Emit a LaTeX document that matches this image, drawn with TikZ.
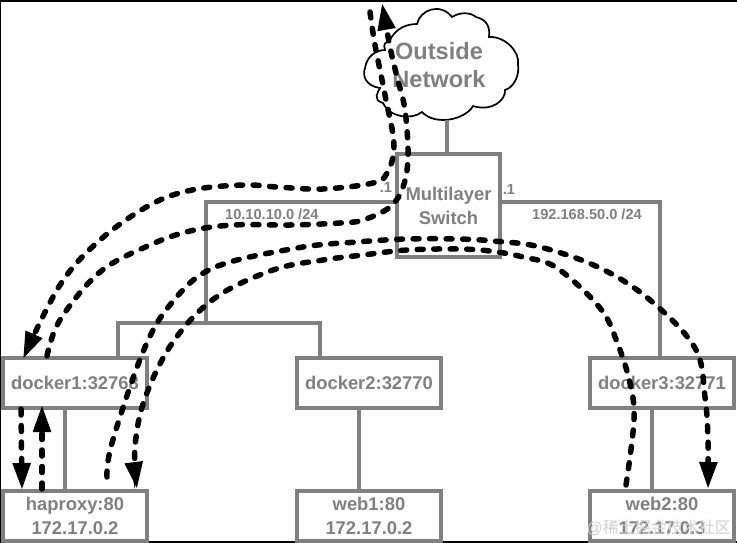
\documentclass[tikz,border=0pt]{standalone}
\usepackage{fontspec}
\setmainfont{Liberation Sans}
\newfontfamily\cjkfont{Noto Sans CJK SC}
\usetikzlibrary{arrows.meta}
\definecolor{boxgray}{HTML}{808080}

\begin{document}
\begin{tikzpicture}[x=1pt,y=-1pt,
  hostbox/.style={draw=boxgray,line width=3.5pt,fill=white,minimum width=144pt,minimum height=50pt,inner sep=0pt,align=center,text=boxgray,font=\fontsize{18.4}{24}\selectfont\bfseries},
  wire/.style={draw=boxgray,line width=3.5pt},
  small/.style={text=boxgray,font=\fontsize{14.6}{17}\selectfont\bfseries,inner sep=0pt},
  flow/.style={line width=5.5pt,line cap=round,dash pattern=on 6pt off 10.5pt},
  flowtip/.style={-{Triangle[length=27pt,width=17pt]}}]
\useasboundingbox (0,0) rectangle (737,543);
\fill[white] (0,0) rectangle (737,543);
\draw[line width=2pt] (0,541.5)--(0,1)--(737,1);\draw[line width=2pt] (0,541.5)--(737,541.5);
% cloud
\draw[line width=1.7pt,fill=white] (383,103) .. controls (372,100) and (378,92) .. (380,88) .. controls (366,86) and (362,76) .. (365,68) .. controls (367,56) and (376,50) .. (385,50) .. controls (383,44) and (385,42) .. (389,42) .. controls (395,28) and (407,24) .. (417,24) .. controls (420,10) and (440,2) .. (452,17) .. controls (460,12) and (470,12) .. (476,17) .. controls (488,20) and (490,28) .. (489,37) .. controls (505,36) and (520,52) .. (518,64) .. controls (520,78) and (512,88) .. (505,90) .. controls (506,100) and (492,112) .. (473,106) .. controls (465,120) and (435,126) .. (422,112) .. controls (412,120) and (390,118) .. (383,103) -- cycle;
\node[text=boxgray,align=center,inner sep=0pt,font=\fontsize{23.6}{28}\selectfont\bfseries] (outside) at (439,65) {Outside\\Network};
\coordinate (cloudbase) at (447,120);
% boxes
\node[hostbox,minimum width=103pt,minimum height=103pt] (switch) at (448.5,205.5) {Multilayer\\Switch};
\node[hostbox] (docker1) at (75,383) {docker1:32768};
\node[hostbox] (docker2) at (369,383) {docker2:32770};
\node[hostbox] (docker3) at (662,383) {docker3:32771};
\node[hostbox] (haproxy) at (75,516) {haproxy:80\\172.17.0.2};
\node[hostbox] (web1) at (369,516) {web1:80\\172.17.0.2};
\node[hostbox] (web2) at (662,516) {web2:80\\172.17.0.3};
% links
\draw[wire] (cloudbase)--(switch.north-|cloudbase);
\draw[wire] (switch.west|-0,202)--(206,202)--(206,323);
\draw[wire] (docker1.north-|118,0)--(118,323)--(320,323)--(docker2.north-|320,0);
\draw[wire] (switch.east|-0,202)--(660,202)--(docker3.north-|660,0);
\draw[wire] (docker1.south-|65,0)--(haproxy.north-|65,0);
\draw[wire] (docker2.south-|359,0)--(web1.north-|359,0);
\draw[wire] (docker3.south-|652,0)--(web2.north-|652,0);
\node[small,anchor=west] at (225,214) {10.10.10.0 /24};
\node[small,anchor=west] at (532,214) {192.168.50.0 /24};
\node[small] at (386,187) {.1};
\node[small] at (509,189) {.1};
% flows
\coordinate (fromout) at (370,12);\coordinate (todocker1) at (23,359);
\coordinate (fromdocker1) at (47,356);\coordinate (toout) at (382,3);
\draw[flow,flowtip] plot[smooth,tension=.6] coordinates {(fromout) (375,45) (385,95) (394,145) (387,173) (373,183) (323,189) (277,187) (243,185) (192,190) (150,205) (100,240) (60,285) (todocker1)};
\draw[flow,flowtip] plot[smooth,tension=.6] coordinates {(fromdocker1) (60,320) (100,272) (150,245) (190,231) (233,225) (290,225) (340,223) (363,220) (390,207) (403,187) (408,157) (405,110) (397,77) (390,47) (toout)};
\coordinate (fromhaproxy) at (107,477);\coordinate (toweb2) at (708,489);
\coordinate (fromweb2) at (626,485);\coordinate (tohaproxy) at (137,489);
\draw[flow,flowtip] plot[smooth,tension=.6] coordinates {(fromhaproxy) (112,443) (143,352) (170,305) (213,268) (297,248) (357,242) (407,239) (457,239) (493,241) (540,247) (600,268) (650,300) (695,348) (705,397) (708,440) (toweb2)};
\draw[flow,flowtip] plot[smooth,tension=.6] coordinates {(fromweb2) (634,420) (630,383) (617,342) (600,308) (557,268) (523,257) (490,251) (457,249) (407,250) (363,255) (323,260) (273,270) (215,298) (173,342) (145,398) (135,447) (tohaproxy)};
\draw[flow,flowtip] (21,409)--(22,490);
\draw[flow,flowtip] (42,489)--(42,405);
% mark
\node[text=black!18,font=\fontsize{16}{18}\selectfont,inner sep=0pt,anchor=east] at (731,528) {@{\cjkfont 稀土掘金技术社区}};
\end{tikzpicture}
\end{document}
